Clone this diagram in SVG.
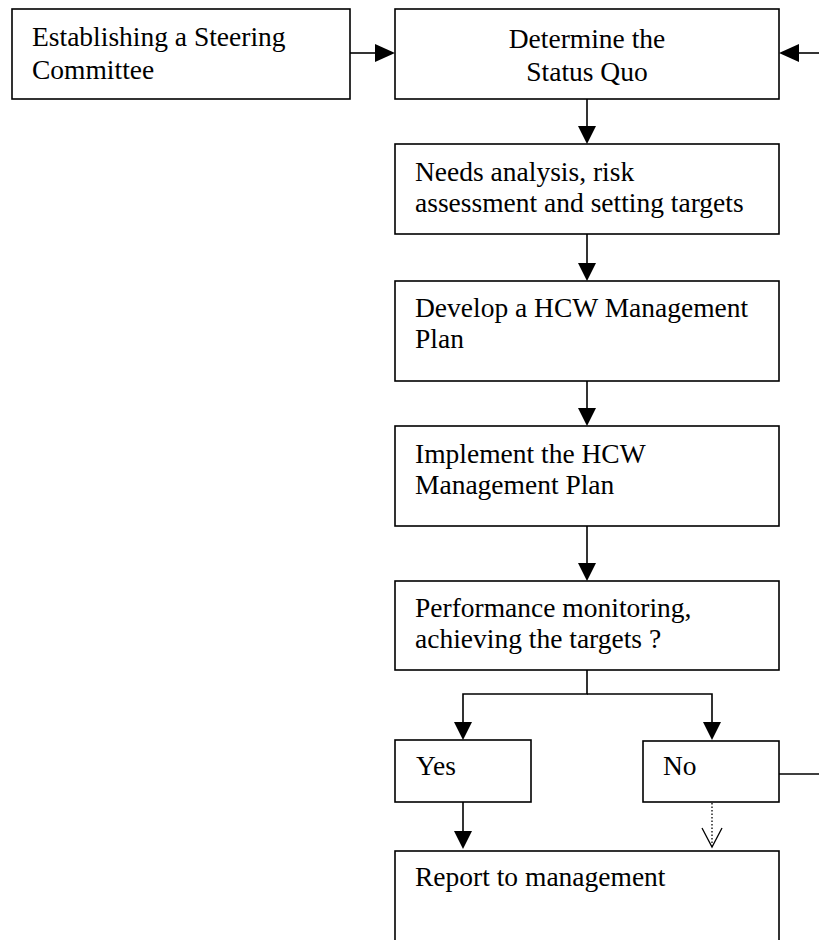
<svg xmlns="http://www.w3.org/2000/svg" width="819" height="940" viewBox="0 0 819 940">
<style>
.box{fill:#fff;stroke:#000;stroke-width:1.6}
.t{font-family:"Liberation Serif","Times New Roman",serif;font-size:27.5px;fill:#000}
.c{text-anchor:middle}
.ln{fill:none;stroke:#000;stroke-width:1.6}
.dot{fill:none;stroke:#000;stroke-width:1.3;stroke-dasharray:1.5 2}
.ah{fill:#000}
.oh{fill:none;stroke:#000;stroke-width:1.3}
</style>
<rect width="819" height="940" fill="#fff"/>
<g id="connectors">
<line class="ln" x1="350" y1="53" x2="378" y2="53"/>
<polygon class="ah" points="375,44 395,53 375,62"/>
<line class="ln" x1="819" y1="53" x2="796" y2="53"/>
<polygon class="ah" points="799,44 779,53 799,62"/>
<line class="ln" x1="587" y1="99" x2="587" y2="128"/>
<polygon class="ah" points="578,126 587,144 596,126"/>
<line class="ln" x1="587" y1="234" x2="587" y2="265"/>
<polygon class="ah" points="578,263 587,281 596,263"/>
<line class="ln" x1="587" y1="381" x2="587" y2="410"/>
<polygon class="ah" points="578,408 587,426 596,408"/>
<line class="ln" x1="587" y1="526" x2="587" y2="565"/>
<polygon class="ah" points="578,563 587,581 596,563"/>
<polyline class="ln" points="587,670 587,694 463,694 463,724"/>
<polyline class="ln" points="587,694 712,694 712,724"/>
<polygon class="ah" points="454,722 463,740 472,722"/>
<polygon class="ah" points="703,722 712,740 721,722"/>
<line class="ln" x1="779" y1="774" x2="819" y2="774"/>
<line class="ln" x1="463" y1="802" x2="463" y2="833"/>
<polygon class="ah" points="454,831 463,849 472,831"/>
<line class="dot" x1="712" y1="803" x2="712" y2="847"/>
<polyline class="oh" points="702,828 712,847 722,828"/>
</g>
<g id="n1"><rect class="box" x="12" y="9" width="338" height="90"/>
<text class="t" x="32" y="46">Establishing a Steering</text><text class="t" x="32" y="79">Committee</text></g>
<g id="n2"><rect class="box" x="395" y="9" width="384" height="90"/>
<text class="t c" x="587" y="48">Determine the</text><text class="t c" x="587" y="81">Status Quo</text></g>
<g id="n3"><rect class="box" x="395" y="144" width="384" height="90"/>
<text class="t" x="415" y="181">Needs analysis, risk</text><text class="t" x="415" y="212">assessment and setting targets</text></g>
<g id="n4"><rect class="box" x="395" y="281" width="384" height="100"/>
<text class="t" x="415" y="317">Develop a HCW Management</text><text class="t" x="415" y="348">Plan</text></g>
<g id="n5"><rect class="box" x="395" y="426" width="384" height="100"/>
<text class="t" x="415" y="463">Implement the HCW</text><text class="t" x="415" y="494">Management Plan</text></g>
<g id="n6"><rect class="box" x="395" y="581" width="384" height="89"/>
<text class="t" x="415" y="617">Performance monitoring,</text><text class="t" x="415" y="648">achieving the targets ?</text></g>
<g id="n7"><rect class="box" x="395" y="740" width="136" height="62"/>
<text class="t" x="416" y="775">Yes</text></g>
<g id="n8"><rect class="box" x="643" y="741" width="136" height="61"/>
<text class="t" x="663" y="775">No</text></g>
<g id="n9"><rect class="box" x="395" y="851" width="384" height="100"/>
<text class="t" x="415" y="886">Report to management</text></g>
</svg>
